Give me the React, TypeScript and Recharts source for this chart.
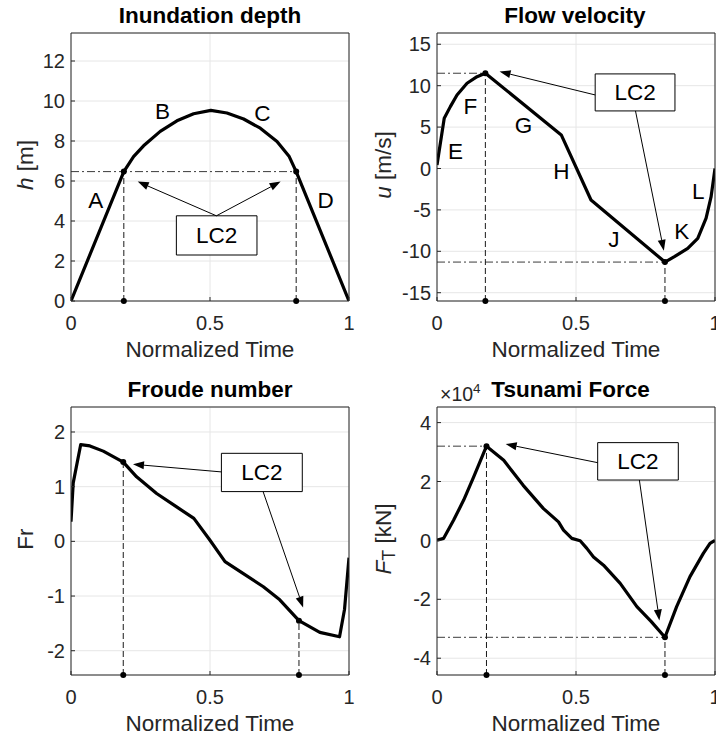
import React from "react";
import {
  CartesianGrid,
  Line,
  LineChart,
  ReferenceArea,
  ReferenceDot,
  ReferenceLine,
  XAxis,
  YAxis,
} from "recharts";

const timeTicks = [0, 0.5, 1];

// inundation depth h [m]
const depthTime = [0, 0.19, 0.225, 0.261, 0.321, 0.381, 0.441, 0.503, 0.561, 0.621, 0.681, 0.741, 0.785, 0.81, 1];
const depthValues = [0, 6.47, 7.22, 7.76, 8.48, 9.01, 9.36, 9.53, 9.4, 9.1, 8.64, 7.98, 7.22, 6.47, 0];
const depthTicks = [0, 2, 4, 6, 8, 10, 12];

// flow velocity u [m/s]
const velocityTime = [0, 0.026, 0.048, 0.072, 0.108, 0.144, 0.174, 0.447, 0.554, 0.82, 0.854, 0.902, 0.938, 0.968, 0.986, 1];
const velocityValues = [0.42, 6.06, 7.47, 8.88, 10.29, 11.09, 11.5, 4.05, -3.8, -11.3, -10.65, -9.65, -8.45, -6.0, -3.4, 0];
const velocityTicks = [-15, -10, -5, 0, 5, 10, 15];

// Froude number
const froudeTime = [0, 0.008, 0.035, 0.068, 0.116, 0.188, 0.236, 0.308, 0.38, 0.442, 0.5, 0.554, 0.62, 0.692, 0.751, 0.82, 0.895, 0.966, 0.984, 1];
const froudeValues = [0.36, 1.07, 1.77, 1.745, 1.65, 1.45, 1.18, 0.875, 0.63, 0.42, 0.02, -0.37, -0.59, -0.83, -1.07, -1.45, -1.665, -1.745, -1.24, -0.3];
const froudeTicks = [-2, -1, 0, 1, 2];

// tsunami force F_T [kN]
const forceTime = [0, 0.024, 0.06, 0.096, 0.132, 0.178, 0.24, 0.31, 0.383, 0.437, 0.455, 0.485, 0.515, 0.539, 0.563, 0.599, 0.659, 0.719, 0.77, 0.82, 0.862, 0.91, 0.958, 0.982, 1];
const forceValues = [100, 700, 6900, 13700, 21600, 32000, 27200, 18700, 10800, 6300, 3500, 700, -100, -2700, -5600, -8400, -14600, -22500, -27500, -32900, -22500, -12300, -4400, -1000, 0];
const forceTicks = [-40000, -20000, 0, 20000, 40000];

const FONT = "'Liberation Sans', Arial, sans-serif";
const INK = "#262626";

type Pt = [number, number];
type Note = { x: number; y: number; text: string };

type PanelProps = {
  left: number;
  top: number;
  plot: { l: number; r: number; t: number; b: number };
  rows: { t: number; v: number }[];
  yDomain: [number, number];
  yTicks: number[];
  yFormat?: (v: number) => string;
  title: string;
  titleX: number;
  exponent?: boolean;
  yLabel: React.ReactNode;
  box: [number, number, number, number];
  arrows: [Pt, Pt][];
  notes: Note[];
  marks: Pt[];
  hLines: [number, number, number][];
};

const toRows = (t: number[], v: number[]) => t.map((time, i) => ({ t: time, v: v[i] }));

const fmtTime = (v: number) => String(v);

const arrowShape = (p: any) => {
  const { x1, y1, x2, y2 } = p;
  const dx = x2 - x1;
  const dy = y2 - y1;
  const len = Math.hypot(dx, dy) || 1;
  const ux = dx / len;
  const uy = dy / len;
  const bx = x2 - ux * 11;
  const by = y2 - uy * 11;
  const px = -uy * 4;
  const py = ux * 4;
  return (
    <g>
      <line x1={x1} y1={y1} x2={bx} y2={by} stroke="#000" strokeWidth={1} />
      <polygon points={`${x2},${y2} ${bx + px},${by + py} ${bx - px},${by - py}`} fill="#000" />
    </g>
  );
};

const noteShape = (text: string) => (p: any) => (
  <text x={p.cx} y={p.cy} textAnchor="middle" dominantBaseline="central" fontSize={22.5} fill="#000" fontFamily={FONT}>
    {text}
  </text>
);

function Panel(props: PanelProps) {
  const { plot, yDomain } = props;
  const width = 358;
  const height = 369;
  const midY = (plot.t + plot.b) / 2 - 2;
  const ymin = yDomain[0];
  const titleLabel = () => (
    <g fontFamily={FONT}>
      <text x={props.titleX} y={plot.t - 10.5} textAnchor="middle" fontSize={22.5} fontWeight="bold" fill="#000">
        {props.title}
      </text>
      {props.exponent && (
        <text x={plot.l + 3} y={plot.t - 6} fontSize={19.5} fill={INK}>
          ×10
          <tspan dy={-8} fontSize={13.5}>
            4
          </tspan>
        </text>
      )}
    </g>
  );
  const xLabel = () => (
    <text x={(plot.l + plot.r) / 2} y={plot.b + 55.5} textAnchor="middle" fontSize={22.5} fill={INK} fontFamily={FONT}>
      Normalized Time
    </text>
  );
  const yLabel = () => (
    <text
      x={25}
      y={midY}
      transform={`rotate(-90, 25, ${midY})`}
      textAnchor="middle"
      dominantBaseline="central"
      fontSize={22.5}
      fill={INK}
      fontFamily={FONT}
    >
      {props.yLabel}
    </text>
  );
  const tickStyle = { fontSize: 20, fill: INK, fontFamily: FONT };
  return (
    <div style={{ position: "absolute", left: props.left, top: props.top }}>
      <LineChart
        width={width}
        height={height}
        data={props.rows}
        margin={{ top: plot.t - 1, right: width - plot.r - 1, bottom: 0, left: 0 }}
      >
        <CartesianGrid stroke="#e6e6e6" strokeWidth={1} />
        <XAxis
          dataKey="t"
          type="number"
          domain={[0, 1]}
          ticks={timeTicks}
          allowDataOverflow
          interval={0}
          height={height - plot.b}
          stroke={INK}
          tickSize={-4}
          tickMargin={19}
          tick={tickStyle}
          tickFormatter={fmtTime}
          label={xLabel}
        />
        <XAxis
          xAxisId="top"
          orientation="top"
          type="number"
          domain={[0, 1]}
          ticks={timeTicks}
          allowDataOverflow
          interval={0}
          height={1}
          stroke={INK}
          tickSize={-4}
          tick={false}
          label={titleLabel}
        />
        <YAxis
          type="number"
          domain={yDomain}
          ticks={props.yTicks}
          allowDataOverflow
          interval={0}
          width={plot.l}
          stroke={INK}
          tickSize={-4}
          tickMargin={10}
          tick={tickStyle}
          tickFormatter={props.yFormat}
          label={yLabel}
        />
        <YAxis
          yAxisId="right"
          orientation="right"
          type="number"
          domain={yDomain}
          ticks={props.yTicks}
          allowDataOverflow
          interval={0}
          width={1}
          stroke={INK}
          tickSize={-4}
          tick={false}
        />
        {props.hLines.map(([y, x1, x2], i) => (
          <ReferenceLine
            key={`h${i}`}
            segment={[{ x: x1, y }, { x: x2, y }]}
            stroke="#3c3c3c"
            strokeWidth={1}
            strokeDasharray="8 3 2 3"
            ifOverflow="visible"
          />
        ))}
        {props.marks.map(([x, y], i) => (
          <ReferenceLine
            key={`v${i}`}
            segment={[{ x, y: ymin }, { x, y }]}
            stroke="#1a1a1a"
            strokeWidth={1}
            strokeDasharray="6 3"
            ifOverflow="visible"
          />
        ))}
        <Line
          type="linear"
          dataKey="v"
          stroke="#000"
          strokeWidth={3.2}
          strokeLinejoin="round"
          dot={false}
          activeDot={false}
          isAnimationActive={false}
        />
        <ReferenceArea
          x1={props.box[0]}
          x2={props.box[1]}
          y1={props.box[2]}
          y2={props.box[3]}
          fill="#fff"
          fillOpacity={1}
          stroke="#000"
          strokeWidth={1}
          ifOverflow="visible"
        />
        {props.arrows.map(([from, to], i) => (
          <ReferenceLine
            key={`a${i}`}
            segment={[{ x: from[0], y: from[1] }, { x: to[0], y: to[1] }]}
            shape={arrowShape}
            ifOverflow="visible"
          />
        ))}
        {props.marks.map(([x, y], i) => (
          <ReferenceDot key={`m${i}`} x={x} y={y} r={3} fill="#000" stroke="none" ifOverflow="visible" />
        ))}
        {props.marks.map(([x], i) => (
          <ReferenceDot key={`b${i}`} x={x} y={ymin} r={3} fill="#000" stroke="none" ifOverflow="visible" />
        ))}
        {props.notes.map((n, i) => (
          <ReferenceDot key={`n${i}`} x={n.x} y={n.y} r={1} shape={noteShape(n.text)} ifOverflow="visible" />
        ))}
      </LineChart>
    </div>
  );
}

export default function App() {
  return (
    <div style={{ position: "absolute", left: 0, top: 0, width: 716, height: 738, background: "#fff", fontFamily: FONT }}>
      <Panel
        left={0}
        top={0}
        plot={{ l: 71, r: 349, t: 33, b: 301 }}
        rows={toRows(depthTime, depthValues)}
        yDomain={[0, 13.4]}
        yTicks={depthTicks}
        title="Inundation depth"
        titleX={210}
        yLabel={
          <>
            <tspan fontStyle="italic">h</tspan> [m]
          </>
        }
        box={[0.379, 0.669, 2.3, 4.26]}
        arrows={[
          [[0.523, 4.26], [0.24, 5.97]],
          [[0.523, 4.26], [0.754, 5.97]],
        ]}
        notes={[
          { x: 0.089, y: 5.02, text: "A" },
          { x: 0.329, y: 9.48, text: "B" },
          { x: 0.688, y: 9.4, text: "C" },
          { x: 0.916, y: 5.02, text: "D" },
          { x: 0.524, y: 3.28, text: "LC2" },
        ]}
        marks={[
          [0.19, 6.47],
          [0.81, 6.47],
        ]}
        hLines={[[6.47, 0, 0.81]]}
      />
      <Panel
        left={358}
        top={0}
        plot={{ l: 79, r: 357, t: 33, b: 301 }}
        rows={toRows(velocityTime, velocityValues)}
        yDomain={[-16, 16.36]}
        yTicks={velocityTicks}
        title="Flow velocity"
        titleX={217}
        yLabel={
          <>
            <tspan fontStyle="italic">u</tspan> [m/s]
          </>
        }
        box={[0.569, 0.856, 6.95, 11.42]}
        arrows={[
          [[0.569, 8.88], [0.225, 11.7]],
          [[0.714, 6.95], [0.816, -9.93]],
        ]}
        notes={[
          { x: 0.067, y: 2.0, text: "E" },
          { x: 0.12, y: 7.5, text: "F" },
          { x: 0.311, y: 5.25, text: "G" },
          { x: 0.447, y: -0.4, text: "H" },
          { x: 0.636, y: -8.55, text: "J" },
          { x: 0.88, y: -7.6, text: "K" },
          { x: 0.94, y: -2.8, text: "L" },
          { x: 0.7125, y: 9.19, text: "LC2" },
        ]}
        marks={[
          [0.174, 11.5],
          [0.82, -11.3],
        ]}
        hLines={[
          [11.5, 0, 0.174],
          [-11.3, 0, 0.82],
        ]}
      />
      <Panel
        left={0}
        top={369}
        plot={{ l: 71, r: 349, t: 38, b: 306 }}
        rows={toRows(froudeTime, froudeValues)}
        yDomain={[-2.444, 2.457]}
        yTicks={froudeTicks}
        title="Froude number"
        titleX={210}
        yLabel="Fr"
        box={[0.541, 0.832, 0.91, 1.61]}
        arrows={[
          [[0.541, 1.27], [0.223, 1.41]],
          [[0.691, 0.91], [0.835, -1.21]],
        ]}
        notes={[{ x: 0.6865, y: 1.26, text: "LC2" }]}
        marks={[
          [0.188, 1.45],
          [0.82, -1.45],
        ]}
        hLines={[]}
      />
      <Panel
        left={358}
        top={369}
        plot={{ l: 79, r: 357, t: 38, b: 306 }}
        rows={toRows(forceTime, forceValues)}
        yDomain={[-45700, 45300]}
        yTicks={forceTicks}
        yFormat={(v: number) => String(v / 10000)}
        title="Tsunami Force"
        titleX={212.5}
        exponent
        yLabel={
          <>
            <tspan fontStyle="italic">F</tspan>
            <tspan dy={6} fontSize={18}>
              T
            </tspan>
            <tspan dy={-6}> [kN]</tspan>
          </>
        }
        box={[0.578, 0.868, 20500, 33200]}
        arrows={[
          [[0.578, 26400], [0.247, 32700]],
          [[0.728, 20500], [0.8, -27200]],
        ]}
        notes={[{ x: 0.723, y: 26850, text: "LC2" }]}
        marks={[
          [0.178, 32000],
          [0.82, -32900],
        ]}
        hLines={[
          [32000, 0, 0.178],
          [-32900, 0, 0.82],
        ]}
      />
    </div>
  );
}
